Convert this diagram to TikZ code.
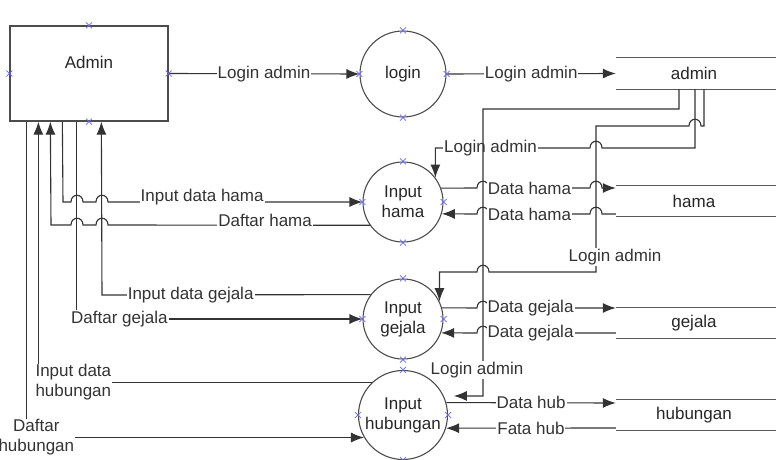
\documentclass[tikz,border=0pt]{standalone}
\usepackage{fontspec}
\setmainfont{Liberation Sans}
\usepackage{tikz}
\usetikzlibrary{arrows.meta}
\tikzset{>={Latex[length=13pt,width=10pt]}}
\def\hopw{6}
\def\hoph{9}
\newcommand{\hopr}[2]{-- (#1-\hopw,#2) .. controls (#1-\hopw,#2-\hoph) and (#1+\hopw,#2-\hoph) .. (#1+\hopw,#2)}
\newcommand{\hopl}[2]{-- (#1+\hopw,#2) .. controls (#1+\hopw,#2-\hoph) and (#1-\hopw,#2-\hoph) .. (#1-\hopw,#2)}
\tikzset{
    entity/.style={draw=black!70, line width=1.3pt, minimum width=158pt, minimum height=95pt, inner sep=0pt},
    process/.style={circle, draw=black!70, line width=1.1pt, inner sep=0pt, align=center},
    store/.style={minimum width=156pt, minimum height=31pt, inner sep=0pt},
    storeline/.style={black!65, line width=1.4pt},
    flow/.style={black!80, line width=1.1pt},
    lbl/.style={fill=white, inner sep=1pt, align=center},
    cpoint/.style={blue!60!white, line width=0.7pt},
}

\begin{document}
\begin{tikzpicture}[x=1pt, y=-1pt, font=\fontsize{17}{20}\selectfont, text=black!85]

\useasboundingbox (0,0) rectangle (776,460);

% Entity and processes
\node[entity, text depth=23pt] (admin_box) at (89,73.5) {Admin};
\node[process, minimum size=86pt] (login) at (403,74) {login};
\node[process, minimum size=80pt] (in_hama) at (403,202) {Input\\hama};
\node[process, minimum size=80pt] (in_gejala) at (403,319) {Input\\gejala};
\node[process, minimum size=89pt] (in_hub) at (403,415) {Input\\hubungan};

% Data stores
\node[store] (st_admin) at (694,73.5) {admin};
\node[store] (st_hama) at (694,201) {hama};
\node[store] (st_gejala) at (694,323) {gejala};
\node[store] (st_hub) at (694,415) {hubungan};

\foreach \s in {st_admin, st_hama, st_gejala, st_hub}{
    \draw[storeline] (\s.north west) -- ([xshift=4pt]\s.north east);
    \draw[storeline] (\s.south west) -- ([xshift=4pt]\s.south east);
}

% TODO taps under the box
\coordinate[](tap_a) at ([xshift=17pt]admin_box.south west) {};
\coordinate[](tap_b) at ([xshift=29pt]admin_box.south west) {};
\coordinate[](tap_c) at ([xshift=41pt]admin_box.south west) {};
\coordinate[](tap_d) at ([xshift=53pt]admin_box.south west) {};
\coordinate[](tap_e) at ([xshift=67pt]admin_box.south west) {};
\coordinate[](tap_f) at ([xshift=92pt]admin_box.south west) {};

\coordinate[](st_tap_hub) at ([xshift=-15pt]st_admin.south) {};
\coordinate[](st_tap_hama) at ([xshift=1pt]st_admin.south) {};
\coordinate[](st_tap_gejala) at ([xshift=10pt]st_admin.south) {};

% Login
\draw[flow, ->] (admin_box.east) -- node[lbl]{Login admin} (login.west);
\draw[flow, ->] (login.east) -- node[lbl]{Login admin} (st_admin.west);

\draw[flow, ->] (st_tap_hama) -- (695,148) \hopl{596}{148} -- (538,148) -- node[lbl]{Login admin} (443,148) -| (in_hama.37);
\draw[flow, ->] (st_tap_gejala) -- (704,126) \hopl{695}{126} -- (596,126) -- node[lbl, pos=0.9, xshift=19pt]{Login admin} (596,272) \hopl{483}{272} -| (in_gejala.26);
\draw[flow, ->] (st_tap_hub) -- (679,109) -- (483,109) -- node[lbl, pos=0.91, xshift=-6pt]{Login admin} (483,396) -- ([xshift=10pt]in_hub.25);

% Processes <-> stores
\draw[flow, ->] (in_hama.20) \hopr{483}{188} -- node[lbl]{Data hama} (570,188) \hopr{596}{188} -- ([yshift=13pt]st_hama.west);
\draw[flow, ->] ([yshift=-13pt]st_hama.west) \hopl{596}{214} -- (570,214) -- node[lbl]{Data hama} (489,214) \hopl{483}{214} -- (in_hama.-17);

\draw[flow, ->] (in_gejala.16) \hopr{483}{308} -- node[lbl]{Data gejala} (572,308) -- ([yshift=15pt]st_gejala.west);
\draw[flow, ->] ([yshift=-10pt]st_gejala.west) -- (572,333) -- node[lbl]{Data gejala} (489,333) \hopl{483}{333} -- (in_gejala.-20);

\draw[flow, ->] (in_hub.16) -- node[lbl]{Data hub} ([yshift=12pt]st_hub.west);
\draw[flow, ->] ([yshift=-13pt]st_hub.west) -- node[lbl]{Fata hub} (in_hub.-17);

% Admin <-> processes
\draw[flow, ->] (tap_d) -- (63,202) \hopr{77}{202} \hopr{102}{202} -- node[lbl, pos=0.37, yshift=5pt]{Input data hama} (in_hama.west);
\draw[flow, ->] (in_hama.215) -- node[lbl, pos=0.4, yshift=5pt]{Daftar hama} (108,225) \hopl{102}{225} \hopl{77}{225} -- (51,225) -- (tap_c);

\draw[flow, ->] (in_gejala.143) -- node[lbl, pos=0.67]{Input data gejala} (102,295) -- (tap_f);
\draw[flow, ->] (tap_e) |- node[lbl, pos=0.5, xshift=43pt]{Daftar gejala} (in_gejala.west);

\draw[flow, ->] (in_hub.134) -| node[lbl, pos=0.5, xshift=35pt]{Input data\\hubungan} (tap_b);
\draw[flow, ->] (tap_a) |- node[lbl, pos=0.5, xshift=10pt]{Daftar\\hubungan} (in_hub.210);

% connection points
\foreach \n in {admin_box, login, in_hama, in_gejala, in_hub}{
    \foreach \a in {north, south, east, west}{
        \draw[cpoint] (\n.\a) +(-3,-3) -- +(3,3) +(-3,3) -- +(3,-3);
    }
}

\end{tikzpicture}
\end{document}
